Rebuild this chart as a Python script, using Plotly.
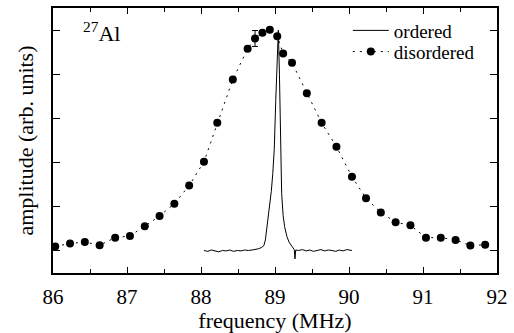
import plotly.graph_objects as go

# disordered sample (points)
dis_freq = [86.03, 86.23, 86.43, 86.63, 86.84, 87.04, 87.24, 87.44, 87.64, 87.84,
            88.04, 88.22, 88.43, 88.63, 88.73, 88.83, 88.93, 89.03, 89.11, 89.23,
            89.43, 89.63, 89.83, 90.04, 90.23, 90.43, 90.63, 90.83, 91.04, 91.24,
            91.44, 91.64, 91.84]
dis_amp = [0.10, 0.17, 0.20, 0.13, 0.30, 0.34, 0.56, 0.79, 1.07, 1.48,
           2.02, 2.90, 3.88, 4.58, 4.81, 4.94, 5.01, 4.86, 4.47, 4.26,
           3.57, 2.90, 2.36, 1.68, 1.19, 0.87, 0.65, 0.58, 0.30, 0.30,
           0.25, 0.12, 0.14]
dis_err = [None] * 14 + [0.18] + [None] * 18

# ordered sample (line)
ord_freq = [88.04, 88.09, 88.14, 88.19, 88.24, 88.29, 88.34, 88.39, 88.44, 88.49,
            88.54, 88.59, 88.64, 88.69, 88.74, 88.78, 88.82, 88.85, 88.87, 88.89,
            88.92, 88.95, 88.97, 88.99, 89.01, 89.03, 89.045, 89.06, 89.075, 89.09,
            89.11, 89.13, 89.16, 89.19, 89.23, 89.26, 89.27, 89.28, 89.32, 89.37,
            89.42, 89.47, 89.52, 89.57, 89.62, 89.67, 89.72, 89.77, 89.82, 89.87,
            89.92, 89.97, 90.04]
ord_amp = [0.01, -0.01, 0.02, 0.00, -0.02, 0.01, 0.00, 0.02, -0.01, 0.01,
           0.00, 0.02, 0.01, 0.02, 0.03, 0.05, 0.08, 0.12, 0.25, 0.50,
           0.95, 1.35, 1.75, 2.30, 3.40, 4.60, 5.00, 4.00, 2.20, 1.30,
           0.80, 0.55, 0.33, 0.20, 0.10, 0.03, -0.18, 0.02, 0.01, 0.03,
           0.00, 0.02, -0.01, 0.01, 0.03, 0.00, 0.02, 0.01, -0.01, 0.02,
           0.00, 0.03, 0.01]

x_ticks = [86, 87, 88, 89, 90, 91, 92]

FONT = "'Liberation Serif', 'DejaVu Serif', serif"

fig = go.Figure()
fig.add_trace(go.Scatter(
    x=dis_freq, y=dis_amp, mode="lines+markers", name="disordered",
    line=dict(color="black", width=1, dash="2px,5px"),
    marker=dict(color="black", size=8),
    error_y=dict(type="data", array=dis_err, visible=True, color="black",
                 thickness=1, width=3),
    legend="legend2",
))
fig.add_trace(go.Scatter(
    x=ord_freq, y=ord_amp, mode="lines", name="ordered",
    line=dict(color="black", width=1),
    legend="legend",
))

axis_common = dict(
    showline=True, linecolor="black", linewidth=1.5, mirror="ticks",
    ticks="inside", tickcolor="black", tickwidth=1.2,
    showgrid=False, zeroline=False,
)
fig.update_xaxes(
    range=[86, 92], tickvals=x_ticks, ticklen=6, ticklabeloverflow="allow",
    ticklabelstandoff=4,
    tickfont=dict(family=FONT, size=21, color="black"),
    minor=dict(dtick=0.5, ticks="inside", ticklen=4, tickcolor="black", tickwidth=1),
    title=dict(text="frequency (MHz)", font=dict(family=FONT, size=22, color="black"),
               standoff=3),
    **axis_common,
)
fig.update_yaxes(
    range=[-0.5, 5.5], dtick=1, tick0=0, ticklen=7, showticklabels=False,
    title=dict(text="amplitude (arb. units)", font=dict(family=FONT, size=22, color="black"),
               standoff=12),
    **axis_common,
)

legend_common = dict(
    font=dict(family=FONT, size=19, color="black"),
    bgcolor="rgba(0,0,0,0)", borderwidth=0, xanchor="left", yanchor="middle",
    itemclick=False, itemdoubleclick=False, itemwidth=36,
)
fig.update_layout(
    width=514, height=333,
    margin=dict(l=53, r=10, t=6, b=56),
    paper_bgcolor="white", plot_bgcolor="white",
    showlegend=True,
    legend=dict(x=0.664, y=0.915, **legend_common),
    legend2=dict(x=0.664, y=0.835, **legend_common),
    annotations=[dict(
        text="<sup>27</sup>Al", x=0.063, y=0.91, xref="paper", yref="paper",
        xanchor="left", yanchor="middle", showarrow=False,
        font=dict(family=FONT, size=22, color="black"),
    )],
)

fig.write_html("out.html")
